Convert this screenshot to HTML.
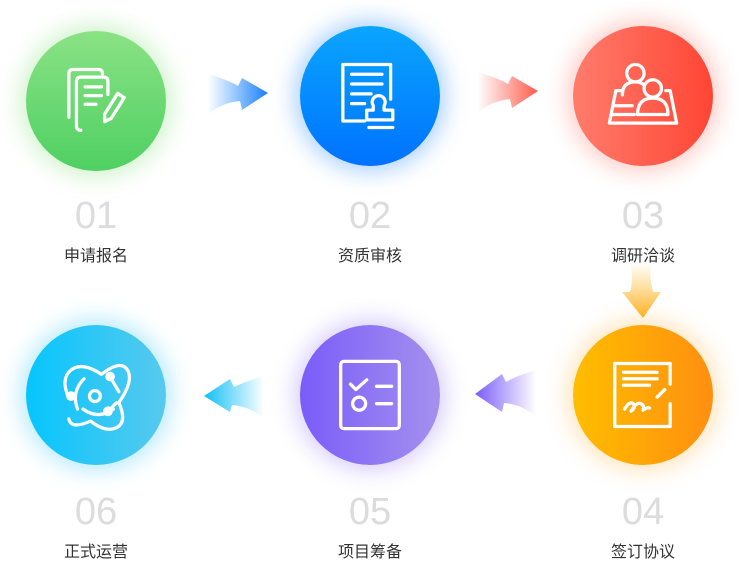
<!DOCTYPE html>
<html><head><meta charset="utf-8"><style>
body{margin:0;width:739px;height:561px;background:#fff;position:relative;overflow:hidden;font-family:"Liberation Sans","Noto Sans CJK SC",sans-serif}
.c{position:absolute;width:140px;height:140px;border-radius:50%;}
.n{position:absolute;width:140px;text-align:center;font-size:38px;color:#dcdcdc;font-weight:300;line-height:1}
.l{position:absolute;width:140px;text-align:center;font-size:16px;color:#333;line-height:1}
svg.i{position:absolute;left:32px;top:32px;width:76px;height:76px}
.a{position:absolute}
</style></head><body>

<div class="c" style="left:26px;top:31px;background:linear-gradient(#8ae284,#4fd062);box-shadow:0 0 22px 6px rgba(120,220,110,.35)">
<svg class="i" viewBox="0 0 70 70" fill="none" stroke="#fff" stroke-width="3" stroke-linecap="round" stroke-linejoin="round">
<path d="M10 50V10q0-4 4-4h23q4 0 4 4"/><path d="M21 62q-4 0-4-4V17q0-4 4-4h21q4 0 4 4v12"/><path d="M25 22h15M25 30h15M25 38h10"/><path d="M55 28l6 4-12 19-6 3 0-7z"/>
</svg></div>
<div class="n" style="left:26px;top:197px">01</div>
<div class="l" style="left:26px;top:249px">申请报名</div>

<div class="c" style="left:300px;top:26px;background:linear-gradient(#0aa5fe,#0072fe);box-shadow:0 0 22px 6px rgba(20,130,255,.35)">
<svg class="i" viewBox="0 0 70 70" fill="none" stroke="#fff" stroke-width="3" stroke-linecap="round" stroke-linejoin="round">
<path d="M30 58H10V6h44v32"/><path d="M18 15h28M18 24h28M18 33h18M18 42h12"/><path d="M38 48v-4a6 6 0 1 1 10 0v4h8v9H32v-9z"/><path d="M34 64h22"/>
</svg></div>
<div class="n" style="left:300px;top:197px">02</div>
<div class="l" style="left:300px;top:249px">资质审核</div>

<div class="c" style="left:573px;top:26px;background:linear-gradient(90deg,#ff7c6c,#ff4534);box-shadow:0 0 22px 6px rgba(255,90,70,.3)">
<svg class="i" viewBox="0 0 70 70" fill="none" stroke="#fff" stroke-width="3" stroke-linecap="round" stroke-linejoin="round">
<path d="M16 30h-6L4 60h62l-6-30h-4"/><circle cx="28" cy="14" r="8"/><path d="M16 34q0-12 12-12q5 0 8 3"/><circle cx="44" cy="28" r="8"/><path d="M30 52q0-15 14-15t14 15z"/><path d="M8 44h17M7 52h20"/>
</svg></div>
<div class="n" style="left:573px;top:197px">03</div>
<div class="l" style="left:573px;top:249px">调研洽谈</div>

<div class="c" style="left:573px;top:325px;background:linear-gradient(90deg,#ffbd00,#ff8f10);box-shadow:0 0 22px 6px rgba(255,170,40,.3)">
<svg class="i" viewBox="0 0 70 70" fill="none" stroke="#fff" stroke-width="3" stroke-linecap="round" stroke-linejoin="round">
<path d="M60 25V6H9v58h51V43"/><path d="M17 14h31M17 20h31M17 26h24"/><path d="M18 48q5-8 8-5t-2 7q5-9 9-7t2 6q4-3 6-2M48 37l7-7"/>
</svg></div>
<div class="n" style="left:573px;top:493px">04</div>
<div class="l" style="left:573px;top:545px">签订协议</div>

<div class="c" style="left:300px;top:325px;background:linear-gradient(90deg,#7a5cf9,#a491ee);box-shadow:0 0 22px 6px rgba(130,100,250,.3)">
<svg class="i" viewBox="0 0 70 70" fill="none" stroke="#fff" stroke-width="3" stroke-linecap="round" stroke-linejoin="round">
<rect x="8" y="4" width="54" height="62" rx="3"/><path d="M17 25l5 5 10-9M41 27h14M41 43h14"/><circle cx="25" cy="43" r="6"/>
</svg></div>
<div class="n" style="left:300px;top:493px">05</div>
<div class="l" style="left:300px;top:545px">项目筹备</div>

<div class="c" style="left:26px;top:325px;background:linear-gradient(90deg,#06c5fd,#58c9ee);box-shadow:0 0 22px 6px rgba(20,190,250,.3)">
<svg class="i" viewBox="0 0 70 70" fill="none" stroke="#fff" stroke-width="3" stroke-linecap="round" stroke-linejoin="round">
<path d="M10 38q-8-18 2-26t28 4q18-14 24-4t-8 30q8 18-2 23t-24-6q-18 8-20-2"/><path d="M18 48q-6-16 6-28M23 48q14 10 28 0"/><circle cx="34" cy="36" r="5"/><circle cx="12" cy="36" r="3" fill="#fff"/><circle cx="48" cy="18" r="3" fill="#fff"/><circle cx="46" cy="50" r="3" fill="#fff"/><path d="M48 18l8 14M46 50l8-8"/>
</svg></div>
<div class="n" style="left:26px;top:493px">06</div>
<div class="l" style="left:26px;top:545px">正式运营</div>

<svg class="a" style="left:0;top:0" width="739" height="561">
<defs>
<linearGradient id="g1"><stop offset="0" stop-color="#1a8cff" stop-opacity="0"/><stop offset="1" stop-color="#1a7cff"/></linearGradient>
<linearGradient id="g2"><stop offset="0" stop-color="#ff5a4a" stop-opacity="0"/><stop offset="1" stop-color="#ff5a4a"/></linearGradient>
<linearGradient id="g3" x1="0" y1="0" x2="0" y2="1"><stop offset="0" stop-color="#ffc040" stop-opacity="0"/><stop offset="1" stop-color="#ffb020"/></linearGradient>
<linearGradient id="g4" x1="1" x2="0"><stop offset="0" stop-color="#7a5cf9" stop-opacity="0"/><stop offset="1" stop-color="#7a5cf9"/></linearGradient>
<linearGradient id="g5" x1="1" x2="0"><stop offset="0" stop-color="#10bff5" stop-opacity="0"/><stop offset="1" stop-color="#10bff5"/></linearGradient>
</defs>
<path d="M208 74q20 6 30 12l4-8 26 15-26 17-2-9q-20 2-32 14z" fill="url(#g1)"/>
<path d="M478 72q20 6 30 12l4-8 26 15-26 17-2-9q-20 2-32 14z" fill="url(#g2)"/>
<path d="M630 262q4 16 0 30h-8l21 26 18-26h-8q-4-14-2-30z" fill="url(#g3)"/>
<path d="M536 370q-20 6-30 12l-4-8-27 20 27 18 2-9q20 2 32 14z" fill="url(#g4)"/>
<path d="M264 376q-20 6-30 11l-4-8-26 17 26 16 2-7q20 2 32 14z" fill="url(#g5)"/>
</svg>
</body></html>
